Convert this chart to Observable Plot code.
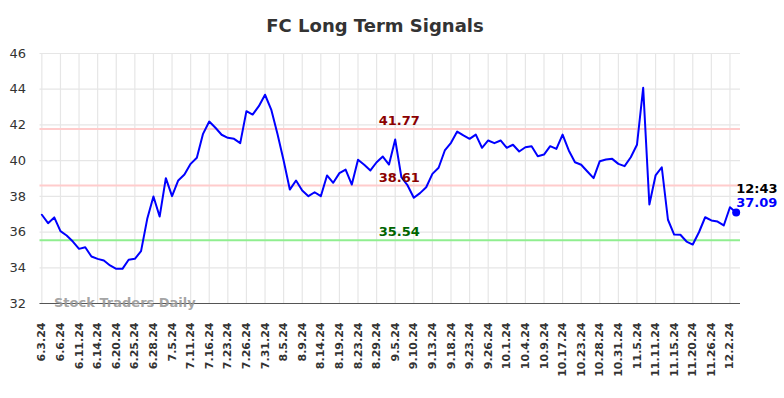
<!DOCTYPE html>
<html><head><meta charset="utf-8">
<script src="https://cdn.jsdelivr.net/npm/d3@7"></script>
<script src="https://cdn.jsdelivr.net/npm/@observablehq/plot@0.6"></script>
<style>
body{margin:0;background:#fff;}
#title{width:750px;height:40px;font:bold 18px "DejaVu Sans";line-height:52px;text-align:center;color:#333;overflow:visible;}
</style></head><body>
<div id="title">FC Long Term Signals</div>
<div id="chart"></div>
<script>
const tickLabels = ["6.3.24","6.6.24","6.11.24","6.14.24","6.20.24","6.25.24","6.28.24","7.5.24","7.11.24","7.16.24","7.23.24","7.26.24","7.31.24","8.5.24","8.9.24","8.14.24","8.19.24","8.23.24","8.29.24","9.5.24","9.10.24","9.13.24","9.18.24","9.23.24","9.26.24","10.1.24","10.4.24","10.9.24","10.17.24","10.23.24","10.28.24","10.31.24","11.5.24","11.11.24","11.15.24","11.20.24","11.26.24","12.2.24"];
const tickEvery = 3;
const values = [36.97,36.50,36.82,36.05,35.81,35.47,35.06,35.15,34.63,34.50,
34.41,34.13,33.94,33.94,34.45,34.50,34.93,36.74,37.99,36.87,
39.02,38.01,38.89,39.22,39.82,40.16,41.50,42.19,41.84,41.45,
41.28,41.22,40.98,42.77,42.58,43.05,43.69,42.86,41.50,40.01,
38.38,38.89,38.33,38.01,38.23,38.01,39.17,38.76,39.30,39.50,
38.66,40.05,39.77,39.45,39.91,40.23,39.78,41.18,39.07,38.61,
37.92,38.18,38.51,39.26,39.60,40.57,41.00,41.63,41.41,41.22,
41.46,40.72,41.13,40.98,41.13,40.72,40.89,40.51,40.75,40.81,
40.25,40.34,40.81,40.66,41.46,40.57,39.91,39.77,39.39,39.02,
39.97,40.06,40.10,39.82,39.69,40.19,40.89,44.08,37.54,39.17,
39.63,36.69,35.86,35.85,35.47,35.30,35.99,36.83,36.65,36.59,
36.37,37.39,37.09];
const lastTime = "12:43";
const levels = [41.77, 38.61, 35.54];
const levelKinds = ["resistance", "resistance", "support"];
const yTicks = [32,34,36,38,40,42,44,46];
const watermark = "Stock Traders Daily";

const data = values.map((v, i) => ({i, v}));
const last = data[data.length - 1];
const levelData = levels.map((v, k) => ({v, kind: levelKinds[k]}));
const xTicks = tickLabels.map((_, k) => k * tickEvery);
const font = "DejaVu Sans";

const chart = Plot.plot({
  width: 784, height: 358,
  marginTop: 13, marginBottom: 95, marginLeft: 39.5, marginRight: 44,
  style: {fontFamily: font, background: "#fff"},
  x: {type: "linear", domain: [-0.3, 112.7]},
  y: {domain: [32, 46]},
  marks: [
    Plot.gridY(yTicks, {stroke: "#e6e6e6", strokeOpacity: 1, strokeWidth: 1.2}),
    Plot.gridX(xTicks, {stroke: "#e6e6e6", strokeOpacity: 1, strokeWidth: 1.2}),
    Plot.ruleY(levelData, {y: "v", stroke: d => d.kind === "support" ? "#90ee90" : "#ffcccc", strokeWidth: 2}),
    Plot.ruleY([32], {stroke: "#555", strokeWidth: 1.2}),
    Plot.axisY({ticks: yTicks, tickSize: 0, tickPadding: 14, fontSize: 13, fill: "#333", label: null}),
    Plot.axisX({ticks: xTicks, tickFormat: i => tickLabels[i / tickEvery], tickRotate: -90, tickSize: 0, tickPadding: 19, fontSize: 11, fontWeight: "bold", fill: "#333", label: null}),
    Plot.text([watermark], {frameAnchor: "bottom-left", textAnchor: "start", lineAnchor: "middle", dx: 14, dy: -1, fontSize: 13, fontWeight: "bold", fill: "#999", fillOpacity: 0.9}),
    Plot.line(data, {x: "i", y: "v", stroke: "#0000ff", strokeWidth: 2}),
    Plot.text(levelData, {y: "v", text: d => d.v.toFixed(2), frameAnchor: "middle", dx: 9, dy: -8, fontSize: 13, fontWeight: "bold", fill: d => d.kind === "support" ? "#006400" : "#8b0000"}),
    Plot.dot([last], {x: "i", y: "v", r: 4, fill: "#0000ff"}),
    Plot.text([last], {x: "i", y: "v", text: () => lastTime, textAnchor: "start", dy: -24, fontSize: 13, fontWeight: "bold", fill: "#000"}),
    Plot.text([last], {x: "i", y: "v", text: d => d.v.toFixed(2), textAnchor: "start", dy: -10, fontSize: 13, fontWeight: "bold", fill: "#0000ff"})
  ]
});
document.getElementById("chart").appendChild(chart);
</script>
</body></html>
